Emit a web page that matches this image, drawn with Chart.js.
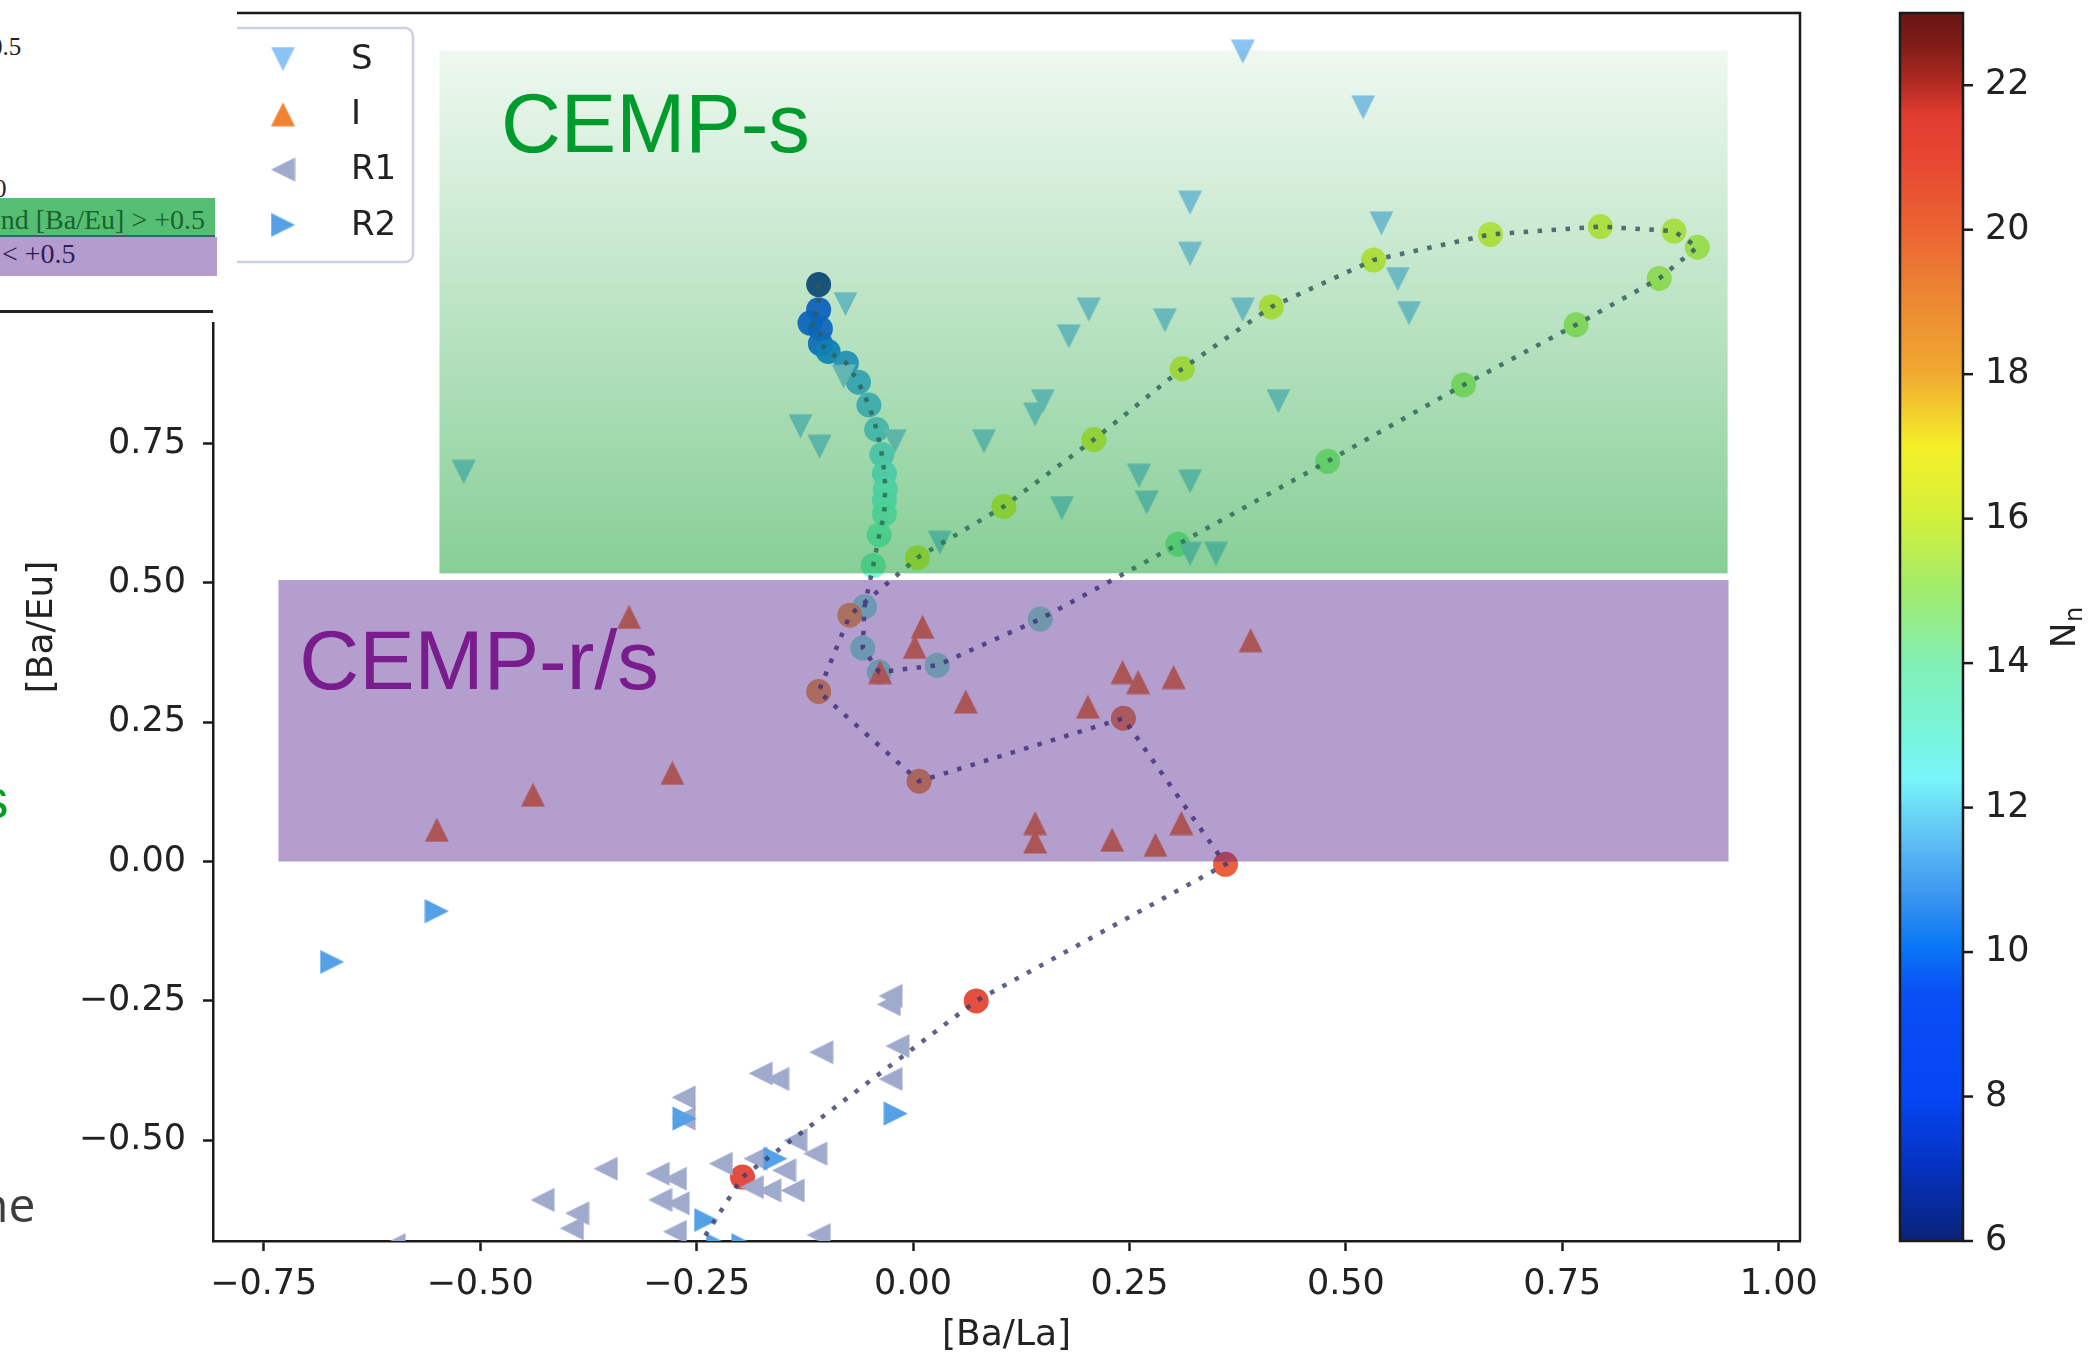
<!DOCTYPE html>
<html>
<head>
<meta charset="utf-8">
<title>[Ba/Eu] vs [Ba/La]</title>
<script src="https://cdn.jsdelivr.net/npm/chart.js@4.4.1/dist/chart.umd.min.js"></script>
<style>
  html, body { margin: 0; padding: 0; background: #fff; }
  #page { position: relative; width: 2088px; height: 1357px; overflow: hidden; }
  #chart { position: absolute; left: 0; top: 0; }
  .frag { position: absolute; white-space: nowrap; line-height: 1; }
  #cover { position: absolute; left: 0; top: 0; width: 237px; height: 322px; background: #fff; overflow: hidden; }
  #cover .cell { position: absolute; font-family: "Liberation Serif", "DejaVu Serif", serif; white-space: nowrap; line-height: 1; }
  #cover .row { position: absolute; left: 0; overflow: hidden; }
</style>
</head>
<body>
<div id="page">
  <canvas id="chart" width="2088" height="1357"></canvas>

  <!-- bits of the page text sticking out left of the figure -->
  <div class="frag" style="left:-19px; top:772px; font-family:'Liberation Sans',Arial,sans-serif; font-size:55px; color:rgb(0,160,40);">s</div>
  <div class="frag" style="left:-21px; top:1180px; font-family:'Open Sans',sans-serif; font-size:48px; color:#3c3c3c;">ne</div>

  <!-- table snippet lying over the top-left corner -->
  <div id="cover">
    <div class="cell" style="left:-10px; top:34px; font-size:25px; color:#222;">0.5</div>
    <div class="cell" style="left:-6px; top:176px; font-size:25px; color:#222;">0</div>
    <div class="row" style="top:198px; width:215px; height:37px; background:rgb(85,190,115); border-bottom:2px solid rgb(60,100,100);">
      <div class="cell" style="right:10px; top:8px; font-size:28px; color:rgb(25,100,45);">nd [Ba/Eu] &gt; +0.5</div>
    </div>
    <div class="row" style="top:237px; width:217px; height:39px; background:rgb(180,157,206);">
      <div class="cell" style="left:2px; top:3px; font-size:28px; color:rgb(45,30,85);">&lt; +0.5</div>
    </div>
    <div class="row" style="top:310px; width:213px; height:3px; background:#222;"></div>
  </div>
</div>

<script>
// ---- data -------------------------------------------------------------

// S stars (down triangles)
const sX = [0.381, 0.520, 0.320, 0.541, 0.320, 0.560, 0.573, 0.381, 0.291, 0.203, 0.180, -0.078, -0.080, 0.422,
  0.150, 0.141, 0.082, -0.021, -0.130, -0.108, -0.519, 0.261, 0.320, 0.172, 0.270, 0.031, 0.320, 0.350];
const sY = [1.453, 1.353, 1.182, 1.145, 1.090, 1.045, 0.984, 0.990, 0.971, 0.990, 0.942, 1.000, 0.870, 0.826,
  0.826, 0.802, 0.754, 0.754, 0.781, 0.744, 0.699, 0.692, 0.682, 0.634, 0.644, 0.572, 0.552, 0.552];

// I stars (up triangles)
const iX = [-0.328, -0.278, -0.439, -0.550, 0.011, 0.002, -0.038, 0.061, 0.141, 0.141, 0.230, 0.280, 0.310,
  0.202, 0.242, 0.260, 0.301, 0.390];
const iY = [0.439, 0.159, 0.120, 0.057, 0.421, 0.385, 0.340, 0.287, 0.069, 0.036, 0.039, 0.030, 0.069,
  0.278, 0.340, 0.322, 0.331, 0.397];

// R1 stars (left triangles)
const r1X = [-0.026, -0.028, -0.018, -0.106, -0.026, -0.176, -0.157, -0.265, -0.265, -0.355, -0.295, -0.275,
  -0.222, -0.182, -0.136, -0.113, -0.186, -0.166, -0.139, -0.149, -0.292, -0.272, -0.428, -0.388, -0.394,
  -0.275, -0.109, -0.600];
const r1Y = [-0.241, -0.256, -0.331, -0.342, -0.390, -0.380, -0.390, -0.423, -0.461, -0.551, -0.560, -0.569,
  -0.542, -0.533, -0.500, -0.524, -0.584, -0.590, -0.590, -0.554, -0.607, -0.613, -0.607, -0.631, -0.658,
  -0.664, -0.670, -0.688];

// R2 stars (right triangles)
const r2X = [-0.550, -0.671, -0.264, -0.020, -0.159, -0.239, -0.225, -0.196];
const r2Y = [-0.089, -0.180, -0.461, -0.452, -0.533, -0.643, -0.688, -0.688];

// model track, coloured by N_n
const trackX = [-0.109, -0.109, -0.119, -0.107, -0.107, -0.098, -0.077, -0.063, -0.051, -0.042,
  -0.036, -0.033, -0.032, -0.033, -0.033, -0.039, -0.046, -0.056, -0.058, -0.039,
  0.028, 0.147, 0.306, 0.479, 0.636, 0.766, 0.862, 0.906, 0.879, 0.794,
  0.667, 0.532, 0.414, 0.311, 0.209, 0.105, 0.005, -0.073, -0.109, 0.007,
  0.243, 0.361, 0.073, -0.197, -0.260];
const trackY = [1.035, 0.990, 0.966, 0.956, 0.929, 0.915, 0.894, 0.860, 0.819, 0.775,
  0.730, 0.696, 0.668, 0.648, 0.624, 0.586, 0.531, 0.457, 0.383, 0.340,
  0.352, 0.435, 0.569, 0.718, 0.855, 0.963, 1.046, 1.102, 1.131, 1.139,
  1.125, 1.079, 0.995, 0.884, 0.757, 0.637, 0.545, 0.442, 0.305, 0.144,
  0.257, -0.005, -0.250, -0.566, -0.720];
const trackN = [6.3, 8.0, 8.5, 9.0, 9.5, 10.0, 10.5, 11.0, 11.3, 11.6,
  12.0, 12.2, 12.4, 12.6, 12.8, 13.0, 13.2, 13.3, 13.4, 13.5,
  13.6, 13.8, 14.2, 14.6, 15.0, 15.2, 15.4, 15.6, 15.9, 16.0,
  16.1, 16.2, 16.3, 16.4, 16.5, 16.6, 16.8, 18.0, 18.3, 18.6,
  19.3, 20.5, 21.3, 21.5, 22.0];

// shaded classes: [xmin, xmax, ymin, ymax] and label anchors [x, y]
const cempSBox = [-0.547, 0.941, 0.517, 1.455];
const cempRSBox = [-0.733, 0.942, 0.0, 0.505];
const cempSText = [-0.476, 1.273];
const cempRSText = [-0.709, 0.310];

const xTicks = [-0.75, -0.5, -0.25, 0, 0.25, 0.5, 0.75, 1.0];
const yTicks = [-0.5, -0.25, 0, 0.25, 0.5, 0.75, 1.0, 1.25, 1.5];
const cbarTicks = [6, 8, 10, 12, 14, 16, 18, 20, 22];

const xRange = [-0.8086, 1.0246];
const yRange = [-0.6807, 1.5222];
const cbarRange = [6, 23];

// ---- colours / markers -------------------------------------------------

const cmapN = [6, 7, 8, 9.4, 10.1, 10.8, 11.7, 12.4, 13, 14, 15, 16, 17, 18, 19.2, 20, 21, 21.6, 22.1, 22.6, 23];
const cmapRGB = [[10, 35, 120], [5, 50, 190], [5, 70, 245], [10, 78, 245], [10, 120, 245], [60, 150, 240],
  [100, 200, 245], [120, 245, 250], [120, 245, 220], [130, 240, 180], [160, 235, 110], [210, 240, 60],
  [245, 240, 40], [240, 170, 50], [235, 130, 50], [235, 100, 50], [230, 70, 50], [225, 60, 48],
  [170, 40, 32], [125, 28, 24], [105, 22, 20]];

function cmap(n, alpha) {
  let i = 0;
  while (i < cmapN.length - 2 && n > cmapN[i + 1]) i++;
  const t = Math.min(1, Math.max(0, (n - cmapN[i]) / (cmapN[i + 1] - cmapN[i])));
  const c = cmapRGB[i].map((v, k) => Math.round(v + (cmapRGB[i + 1][k] - v) * t));
  return 'rgba(' + c.join(',') + ',' + alpha + ')';
}

// matplotlib-like isoceles triangle, turn = 0 up, 90 right, 180 down, 270 left
function triangle(color, turn) {
  const size = 25;
  const c = document.createElement('canvas');
  c.width = size;
  c.height = size;
  const g = c.getContext('2d');
  g.translate(size / 2, size / 2);
  g.rotate(turn * Math.PI / 180);
  const h = size / 2 - 0.5;
  g.beginPath();
  g.moveTo(0, -h);
  g.lineTo(h, h);
  g.lineTo(-h, h);
  g.closePath();
  g.fillStyle = color;
  g.fill();
  return c;
}

const pts = (xs, ys) => xs.map((x, i) => ({ x: x, y: ys[i] }));

const groups = [
  { label: 'S', data: pts(sX, sY), marker: triangle('rgb(140, 195, 245)', 180), order: 4 },
  { label: 'I', data: pts(iX, iY), marker: triangle('rgb(240, 130, 50)', 0), order: 4 },
  { label: 'R1', data: pts(r1X, r1Y), marker: triangle('rgb(160, 170, 205)', 270), order: 5 },
  { label: 'R2', data: pts(r2X, r2Y), marker: triangle('rgb(85, 160, 230)', 90), order: 3 }
];

const font = 'DejaVu Sans';
const ink = '#222222';

// ---- plugins -----------------------------------------------------------

// coloured class boxes are laid over the markers, like in the original
const regions = {
  id: 'regions',
  afterDatasetsDraw(chart) {
    const { ctx, chartArea: a, scales: { x, y } } = chart;
    ctx.save();
    ctx.beginPath();
    ctx.rect(a.left, a.top, a.right - a.left, a.bottom - a.top);
    ctx.clip();

    let x0 = x.getPixelForValue(cempRSBox[0]);
    let x1 = x.getPixelForValue(cempRSBox[1]);
    let y0 = y.getPixelForValue(cempRSBox[3]);
    let y1 = y.getPixelForValue(cempRSBox[2]);
    ctx.fillStyle = 'rgba(76, 24, 138, 0.42)';
    ctx.fillRect(x0, y0, x1 - x0, y1 - y0);

    x0 = x.getPixelForValue(cempSBox[0]);
    x1 = x.getPixelForValue(cempSBox[1]);
    y0 = y.getPixelForValue(cempSBox[3]);
    y1 = y.getPixelForValue(cempSBox[2]);
    const grad = ctx.createLinearGradient(0, y0, 0, y1);
    grad.addColorStop(0, 'rgba(20, 160, 50, 0.07)');
    grad.addColorStop(1, 'rgba(20, 160, 50, 0.51)');
    ctx.fillStyle = grad;
    ctx.fillRect(x0, y0, x1 - x0, y1 - y0);

    ctx.font = '83px "Liberation Sans", Arial, sans-serif';
    ctx.textAlign = 'left';
    ctx.textBaseline = 'alphabetic';
    ctx.fillStyle = 'rgb(0, 155, 45)';
    ctx.fillText('CEMP-s', x.getPixelForValue(cempSText[0]), y.getPixelForValue(cempSText[1]));
    ctx.fillStyle = 'rgb(120, 28, 142)';
    ctx.fillText('CEMP-r/s', x.getPixelForValue(cempRSText[0]), y.getPixelForValue(cempRSText[1]));
    ctx.restore();
  }
};

// top/right spines, colour bar and legend box
const frame = {
  id: 'frame',
  afterDraw(chart) {
    const { ctx, chartArea: a } = chart;
    ctx.save();
    ctx.strokeStyle = '#1a1a1a';
    ctx.lineWidth = 2.5;
    ctx.beginPath();
    ctx.moveTo(a.left, a.top);
    ctx.lineTo(a.right, a.top);
    ctx.lineTo(a.right, a.bottom);
    ctx.stroke();

    // colour bar
    const cbL = 1900, cbR = 1963;
    const span = cbarRange[1] - cbarRange[0];
    const cy = (v) => a.bottom - (v - cbarRange[0]) / span * (a.bottom - a.top);
    const g = ctx.createLinearGradient(0, a.bottom, 0, a.top);
    cmapN.forEach((n) => g.addColorStop((n - cbarRange[0]) / span, cmap(n, 1)));
    ctx.fillStyle = g;
    ctx.fillRect(cbL, a.top, cbR - cbL, a.bottom - a.top);
    ctx.strokeRect(cbL, a.top, cbR - cbL, a.bottom - a.top);

    ctx.fillStyle = ink;
    ctx.font = '35px "' + font + '"';
    ctx.textAlign = 'left';
    ctx.textBaseline = 'middle';
    cbarTicks.forEach((v) => {
      const py = cy(v);
      ctx.beginPath();
      ctx.moveTo(cbR, py);
      ctx.lineTo(cbR + 10, py);
      ctx.stroke();
      ctx.fillText(String(v), cbR + 22, py);
    });

    // N_n
    ctx.save();
    ctx.translate(2063, 628);
    ctx.rotate(-Math.PI / 2);
    ctx.textBaseline = 'alphabetic';
    ctx.font = '34px "' + font + '"';
    ctx.fillText('N', -20, 12);
    ctx.font = '24px "' + font + '"';
    ctx.fillText('n', 6, 19);
    ctx.restore();

    // legend
    const lx0 = 224, ly0 = 28, lx1 = 413, ly1 = 262;
    ctx.beginPath();
    ctx.roundRect(lx0, ly0, lx1 - lx0, ly1 - ly0, 8);
    ctx.fillStyle = 'rgba(255, 255, 255, 0.8)';
    ctx.fill();
    ctx.strokeStyle = 'rgb(204, 208, 226)';
    ctx.lineWidth = 2.5;
    ctx.stroke();
    ctx.font = '34px "' + font + '"';
    ctx.textBaseline = 'middle';
    ctx.fillStyle = ink;
    groups.forEach((grp, k) => {
      const ry = 59 + k * 55.3;
      ctx.drawImage(grp.marker, 283 - grp.marker.width / 2, ry - grp.marker.height / 2);
      ctx.fillText(grp.label, 351, ry + 1);
    });
    ctx.restore();
  }
};

// ---- chart -------------------------------------------------------------

const datasets = groups.map((grp) => ({
  label: grp.label,
  data: grp.data,
  pointStyle: grp.marker,
  pointRadius: 12,
  pointHoverRadius: 12,
  order: grp.order,
  clip: 0
}));

datasets.push({
  label: 'track',
  data: pts(trackX, trackY),
  pointStyle: 'circle',
  pointRadius: 12.5,
  pointHoverRadius: 12.5,
  pointBorderWidth: 0,
  pointBackgroundColor: trackN.map((n) => cmap(n, 0.93)),
  order: 6,
  clip: 0
});

datasets.push({
  label: 'track line',
  data: pts(trackX, trackY),
  showLine: true,
  pointRadius: 0,
  borderColor: 'rgba(58, 62, 108, 0.82)',
  borderWidth: 4.5,
  borderDash: [4.5, 9.5],
  fill: false,
  tension: 0,
  order: 1,
  clip: 0
});

const fmt = (v) => (v < 0 ? '\u2212' : '') + Math.abs(v).toFixed(2);

const axisBase = {
  type: 'linear',
  border: { display: true, color: '#1a1a1a', width: 2.5 },
  grid: { display: true, drawOnChartArea: false, drawTicks: true, tickLength: 10, tickWidth: 2.5, tickColor: '#1a1a1a' },
};

new Chart(document.getElementById('chart'), {
  type: 'scatter',
  data: { datasets: datasets },
  options: {
    responsive: false,
    animation: false,
    events: [],
    layout: { padding: { top: 9, right: 288, left: 0, bottom: 0 } },
    plugins: { legend: { display: false }, tooltip: { enabled: false } },
    scales: {
      x: Object.assign({}, axisBase, {
        min: xRange[0],
        max: xRange[1],
        afterBuildTicks: (s) => { s.ticks = xTicks.map((v) => ({ value: v })); },
        afterFit: (s) => { s.height = 116; s.paddingLeft = 0; s.paddingRight = 0; },
        ticks: { autoSkip: false, maxRotation: 0, padding: 13, color: ink, font: { family: font, size: 35 }, callback: fmt },
        title: { display: true, text: '[Ba/La]', color: ink, font: { family: font, size: 36 }, padding: { top: 0, bottom: 0 } }
      }),
      y: Object.assign({}, axisBase, {
        min: yRange[0],
        max: yRange[1],
        afterBuildTicks: (s) => { s.ticks = yTicks.map((v) => ({ value: v })); },
        afterFit: (s) => { s.width = 213; s.paddingTop = 0; s.paddingBottom = 0; },
        ticks: { autoSkip: false, padding: 17, color: ink, font: { family: font, size: 35 }, callback: fmt },
        title: { display: true, text: '[Ba/Eu]', color: ink, font: { family: font, size: 36 }, padding: { top: 21, bottom: 0 } }
      })
    }
  },
  plugins: [regions, frame]
});
</script>
</body>
</html>
